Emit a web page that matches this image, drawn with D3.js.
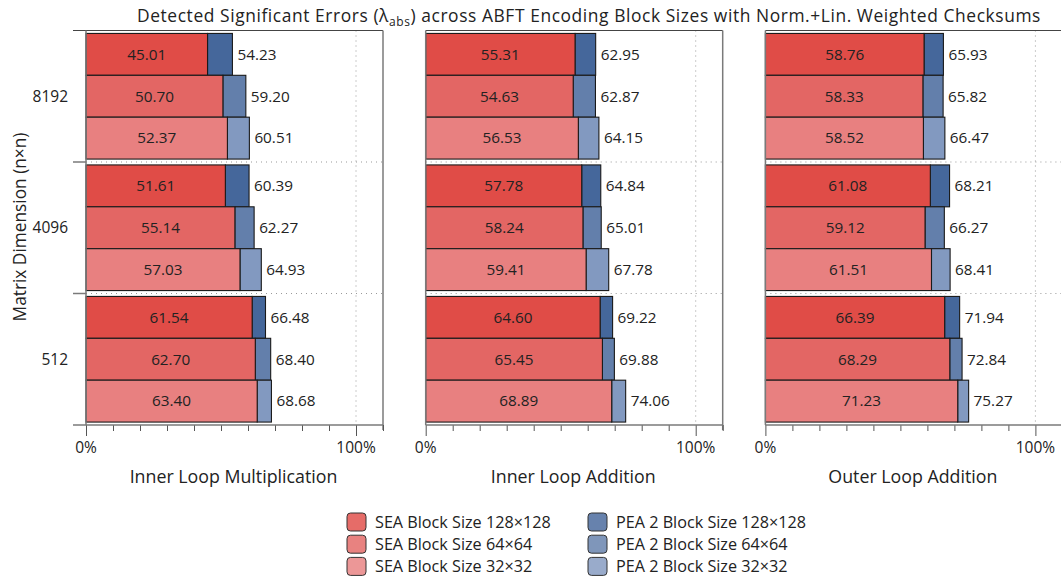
<!DOCTYPE html>
<html>
<head>
<meta charset="utf-8">
<script src="https://cdn.jsdelivr.net/npm/d3@7"></script>
<style>
  html, body { margin: 0; padding: 0; background: #fff; }
  svg { display: block; font-family: "Open Sans", "Noto Sans", sans-serif; }
</style>
</head>
<body>
<svg id="chart" width="1061" height="581"></svg>
<script>
// Matrix sizes (rows, top to bottom) and encoding block sizes (bars within a row)
const matrixSizes = ["8192", "4096", "512"];
const blockSizes = ["128×128", "64×64", "32×32"];
const operations = ["Inner Loop Multiplication", "Inner Loop Addition", "Outer Loop Addition"];
const xTickLabels = ["0%", "100%"];

// Detected significant errors (%), rows = matrix size, columns = block size
const seaMult = [[45.01, 50.70, 52.37], [51.61, 55.14, 57.03], [61.54, 62.70, 63.40]];
const peaMult = [[54.23, 59.20, 60.51], [60.39, 62.27, 64.93], [66.48, 68.40, 68.68]];
const seaInnerAdd = [[55.31, 54.63, 56.53], [57.78, 58.24, 59.41], [64.60, 65.45, 68.89]];
const peaInnerAdd = [[62.95, 62.87, 64.15], [64.84, 65.01, 67.78], [69.22, 69.88, 74.06]];
const seaOuterAdd = [[58.76, 58.33, 58.52], [61.08, 59.12, 61.51], [66.39, 68.29, 71.23]];
const peaOuterAdd = [[65.93, 65.82, 66.47], [68.21, 66.27, 68.41], [71.94, 72.84, 75.27]];

const seaColors = ["#e04c47", "#e36664", "#e88080"];
const peaColors = ["#45679b", "#637fab", "#8299c0"];

const panels = [
  { title: operations[0], sea: seaMult, pea: peaMult },
  { title: operations[1], sea: seaInnerAdd, pea: peaInnerAdd },
  { title: operations[2], sea: seaOuterAdd, pea: peaOuterAdd }
];

const svg = d3.select("#chart");
const plotTop = 30.5, plotBottom = 425, panelW = 297, panelStep = 339.7, firstX = 86;
const axisGray = "#7a7a7a";

const y = d3.scaleBand().domain(matrixSizes).range([plotTop, plotBottom]).paddingInner(0).paddingOuter(0);
const yInner = d3.scaleBand().domain(blockSizes).range([0, y.bandwidth()]).paddingOuter(0.07).paddingInner(0);

// Title
svg.append("text")
  .attr("x", 589).attr("y", 22)
  .attr("text-anchor", "middle")
  .attr("font-size", 17.4)
  .attr("letter-spacing", 0.58)
  .attr("fill", "#222")
  .call(t => {
    t.append("tspan").text("Detected Significant Errors (λ");
    t.append("tspan").attr("font-size", 12).attr("dy", 4).text("abs");
    t.append("tspan").attr("dy", -4).text(") across ABFT Encoding Block Sizes with Norm.+Lin. Weighted Checksums");
  });

panels.forEach((p, pi) => {
  const x0 = firstX + pi * panelStep;
  const x = d3.scaleLinear().domain([0, 1.1]).range([0, panelW]);
  const g = svg.append("g").attr("transform", `translate(${x0},0)`);

  // grid: 100% line and row separators
  g.append("line")
    .attr("x1", x(1)).attr("x2", x(1)).attr("y1", plotTop).attr("y2", plotBottom)
    .attr("stroke", "#999").attr("stroke-dasharray", "1,4");
  matrixSizes.slice(1).forEach(m => {
    g.append("line")
      .attr("x1", 0).attr("x2", panelW).attr("y1", y(m)).attr("y2", y(m))
      .attr("stroke", "#999").attr("stroke-dasharray", "1,4");
  });

  // bars
  matrixSizes.forEach((m, mi) => {
    blockSizes.forEach((b, bi) => {
      const sea = p.sea[mi][bi] / 100, pea = p.pea[mi][bi] / 100;
      const by = y(m) + yInner(b), bh = yInner.bandwidth();
      g.append("rect")
        .attr("x", x(sea)).attr("y", by).attr("width", x(pea) - x(sea)).attr("height", bh)
        .attr("fill", peaColors[bi]).attr("stroke", "#1a1a1a").attr("stroke-width", 1.1);
      g.append("rect")
        .attr("x", x(0)).attr("y", by).attr("width", x(sea)).attr("height", bh)
        .attr("fill", seaColors[bi]).attr("stroke", "#1a1a1a").attr("stroke-width", 1.1);
      g.append("text")
        .attr("x", x(sea) / 2).attr("y", by + bh / 2)
        .attr("dy", "0.35em").attr("text-anchor", "middle")
        .attr("font-size", 15.3).attr("fill", "#222")
        .text(p.sea[mi][bi].toFixed(2));
      g.append("text")
        .attr("x", x(pea) + 5).attr("y", by + bh / 2)
        .attr("dy", "0.35em")
        .attr("font-size", 15.3).attr("fill", "#222")
        .text(p.pea[mi][bi].toFixed(2));
    });
  });

  // frame
  g.append("line").attr("x1", pi === 0 ? -13 : 0).attr("x2", panelW).attr("y1", plotTop).attr("y2", plotTop)
    .attr("stroke", "#444").attr("stroke-width", 1);
  g.append("line").attr("x1", 0).attr("x2", 0).attr("y1", plotTop).attr("y2", plotBottom)
    .attr("stroke", axisGray).attr("stroke-width", 1.5);
  g.append("line").attr("x1", panelW).attr("x2", panelW).attr("y1", plotTop).attr("y2", plotBottom + 5)
    .attr("stroke", axisGray).attr("stroke-width", 1.5);

  // x axis
  const ticks = d3.range(0, 12).map(i => i / 10);
  const xAxis = d3.axisBottom(x).tickValues(ticks).tickSize(0).tickFormat("");
  const ax = g.append("g").attr("transform", `translate(0,${plotBottom})`).call(xAxis);
  ax.select(".domain").remove();
  ax.append("line").attr("x1", pi === 0 ? -13 : 0).attr("x2", panelW).attr("y1", 0).attr("y2", 0)
    .attr("stroke", axisGray).attr("stroke-width", 1.5);
  ax.selectAll(".tick").append("line")
    .attr("y1", 0).attr("y2", d => (d === 0 || d === 1) ? 11 : 6)
    .attr("stroke", "#555").attr("stroke-width", 1);
  [0, 1].forEach((v, i) => {
    g.append("text")
      .attr("x", x(v)).attr("y", 448).attr("dy", "0.35em")
      .attr("text-anchor", "middle").attr("font-size", 15.5).attr("fill", "#222")
      .text(xTickLabels[i]);
  });
  g.append("text")
    .attr("x", panelW / 2 - 1).attr("y", 477).attr("dy", "0.35em")
    .attr("text-anchor", "middle").attr("font-size", 17.8).attr("fill", "#222")
    .text(p.title);

  // y axis (first panel only)
  if (pi === 0) {
    matrixSizes.forEach(m => {
      g.append("text")
        .attr("x", -18).attr("y", y(m) + y.bandwidth() / 2).attr("dy", "0.35em")
        .attr("text-anchor", "end").attr("font-size", 15.5).attr("fill", "#222")
        .text(m);
    });
    matrixSizes.slice(1).forEach(m => {
      g.append("line").attr("x1", -13).attr("x2", 0).attr("y1", y(m)).attr("y2", y(m))
        .attr("stroke", axisGray).attr("stroke-width", 1.5);
    });
  }
});

// y axis title
svg.append("text")
  .attr("transform", `translate(20,227) rotate(-90)`)
  .attr("dy", "0.35em")
  .attr("text-anchor", "middle").attr("font-size", 17.3).attr("fill", "#222")
  .text("Matrix Dimension (n×n)");

// legend
const legend = svg.append("g");
const legendRows = [0, 1, 2];
const legendCols = [
  { x: 347, colors: seaColors, label: s => `SEA Block Size ${s}` },
  { x: 588, colors: peaColors, label: s => `PEA 2 Block Size ${s}` }
];
legendCols.forEach(c => {
  legendRows.forEach(r => {
    const cy = 522 + r * 22.2;
    legend.append("rect")
      .attr("x", c.x).attr("y", cy - 9).attr("width", 19).attr("height", 18).attr("rx", 3.5)
      .attr("fill", c.colors[r]).attr("fill-opacity", 0.82)
      .attr("stroke", "#333").attr("stroke-width", 1);
    legend.append("text")
      .attr("x", c.x + 28).attr("y", cy).attr("dy", "0.35em")
      .attr("font-size", 16.2).attr("fill", "#222")
      .text(c.label(blockSizes[r]));
  });
});
</script>
</body>
</html>
